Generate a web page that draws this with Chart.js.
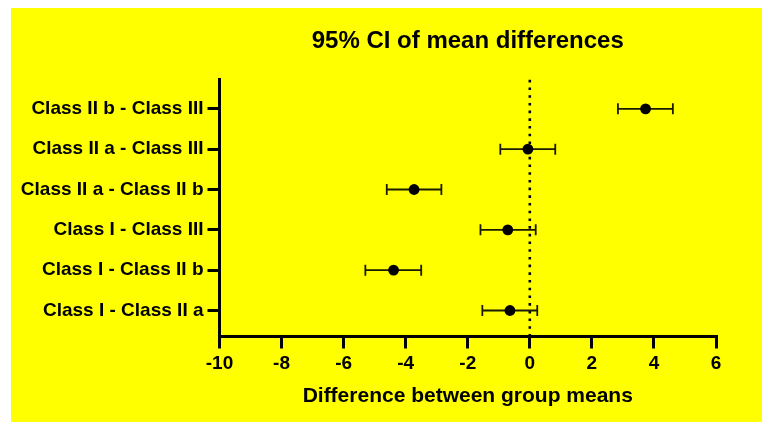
<!DOCTYPE html>
<html>
<head>
<meta charset="utf-8">
<script src="https://cdn.jsdelivr.net/npm/chart.js@4/dist/chart.umd.min.js"></script>
<style>
  html, body { margin: 0; padding: 0; background: #fff; }
  body { width: 762px; height: 422px; position: relative; overflow: hidden; }
  #panel { position: absolute; left: 11px; top: 8px; width: 751px; height: 414px; background: #ffff00; }
  #chart { display: block; }
</style>
</head>
<body>
<div id="panel"><canvas id="chart" width="751" height="414"></canvas></div>
<script>
  // comparisons, listed top to bottom as in the figure
  var comparisons = [
    "Class II b - Class III",
    "Class II a - Class III",
    "Class II a - Class II b",
    "Class I - Class III",
    "Class I - Class II b",
    "Class I - Class II a"
  ];
  var meanDiff = [3.73, -0.06, -3.73, -0.71, -4.39, -0.64];
  var ciLower  = [2.84, -0.95, -4.61, -1.59, -5.30, -1.53];
  var ciUpper  = [4.61,  0.82, -2.85,  0.19, -3.50,  0.24];
  var xTicks = [-10, -8, -6, -4, -2, 0, 2, 4, 6];

  var FONT = "'Liberation Sans', Arial, Helvetica, sans-serif";
  var n = comparisons.length;

  function rowOf(i) { return n - 1 - i; } // top row gets the highest y value

  var points = meanDiff.map(function (v, i) { return { x: v, y: rowOf(i) }; });

  // dotted reference line at zero + horizontal CI bars with end caps
  var ciPlugin = {
    id: "ciBars",
    beforeDatasetsDraw: function (chart) {
      var ctx = chart.ctx, xs = chart.scales.x, ys = chart.scales.y, area = chart.chartArea;
      ctx.save();
      var x0 = xs.getPixelForValue(0);
      ctx.strokeStyle = "#000";
      ctx.lineWidth = 2.6;
      ctx.setLineDash([2.6, 5.1]);
      ctx.beginPath();
      ctx.moveTo(x0, area.top);
      ctx.lineTo(x0, area.bottom);
      ctx.stroke();
      ctx.setLineDash([]);

      ctx.strokeStyle = "#1a1a00";
      ctx.lineWidth = 1.8;
      for (var i = 0; i < n; i++) {
        var y = ys.getPixelForValue(rowOf(i));
        var a = xs.getPixelForValue(ciLower[i]);
        var b = xs.getPixelForValue(ciUpper[i]);
        ctx.beginPath();
        ctx.moveTo(a, y); ctx.lineTo(b, y);
        ctx.moveTo(a, y - 5.5); ctx.lineTo(a, y + 5.5);
        ctx.moveTo(b, y - 5.5); ctx.lineTo(b, y + 5.5);
        ctx.stroke();
      }
      ctx.restore();
    }
  };

  new Chart(document.getElementById("chart"), {
    type: "scatter",
    data: {
      datasets: [{
        data: points,
        pointRadius: 5.4,
        pointHoverRadius: 5.4,
        pointBackgroundColor: "#000",
        pointBorderColor: "#000",
        pointBorderWidth: 0
      }]
    },
    options: {
      responsive: false,
      animation: false,
      events: [],
      layout: { padding: { left: 0, right: 46, top: 0, bottom: 0 } },
      plugins: {
        legend: { display: false },
        tooltip: { enabled: false },
        title: {
          display: true,
          fullSize: false,
          text: "95% CI of mean differences",
          color: "#000",
          font: { family: FONT, size: 24, weight: "bold", lineHeight: 1.2 },
          padding: { top: 19, bottom: 24 }
        }
      },
      scales: {
        x: {
          type: "linear",
          min: -10,
          max: 6,
          afterBuildTicks: function (axis) {
            axis.ticks = xTicks.map(function (v) { return { value: v }; });
          },
          afterFit: function (axis) { axis.height = 85.5; },
          grid: { drawOnChartArea: false, drawTicks: true, tickLength: 12, tickWidth: 3, tickColor: "#000", lineWidth: 3, color: "#000" },
          border: { display: true, color: "#000", width: 3 },
          ticks: { color: "#000", padding: 4, font: { family: FONT, size: 19, weight: "bold" } },
          title: {
            display: true,
            text: "Difference between group means",
            color: "#000",
            font: { family: FONT, size: 21, weight: "bold", lineHeight: 1.2 },
            padding: { top: 0, bottom: 12.7 }
          }
        },
        y: {
          type: "linear",
          min: -0.645,
          max: 5.72,
          afterBuildTicks: function (axis) {
            axis.ticks = comparisons.map(function (c, i) { return { value: rowOf(i) }; });
          },
          afterFit: function (axis) { axis.width = 208.5; },
          grid: { drawOnChartArea: false, drawTicks: true, tickLength: 12, tickWidth: 3, tickColor: "#000", lineWidth: 3, color: "#000" },
          border: { display: true, color: "#000", width: 3 },
          ticks: {
            color: "#000",
            padding: 4,
            font: { family: FONT, size: 19, weight: "bold" },
            callback: function (v) { return comparisons[rowOf(v)]; }
          }
        }
      }
    },
    plugins: [ciPlugin]
  });
</script>
</body>
</html>
